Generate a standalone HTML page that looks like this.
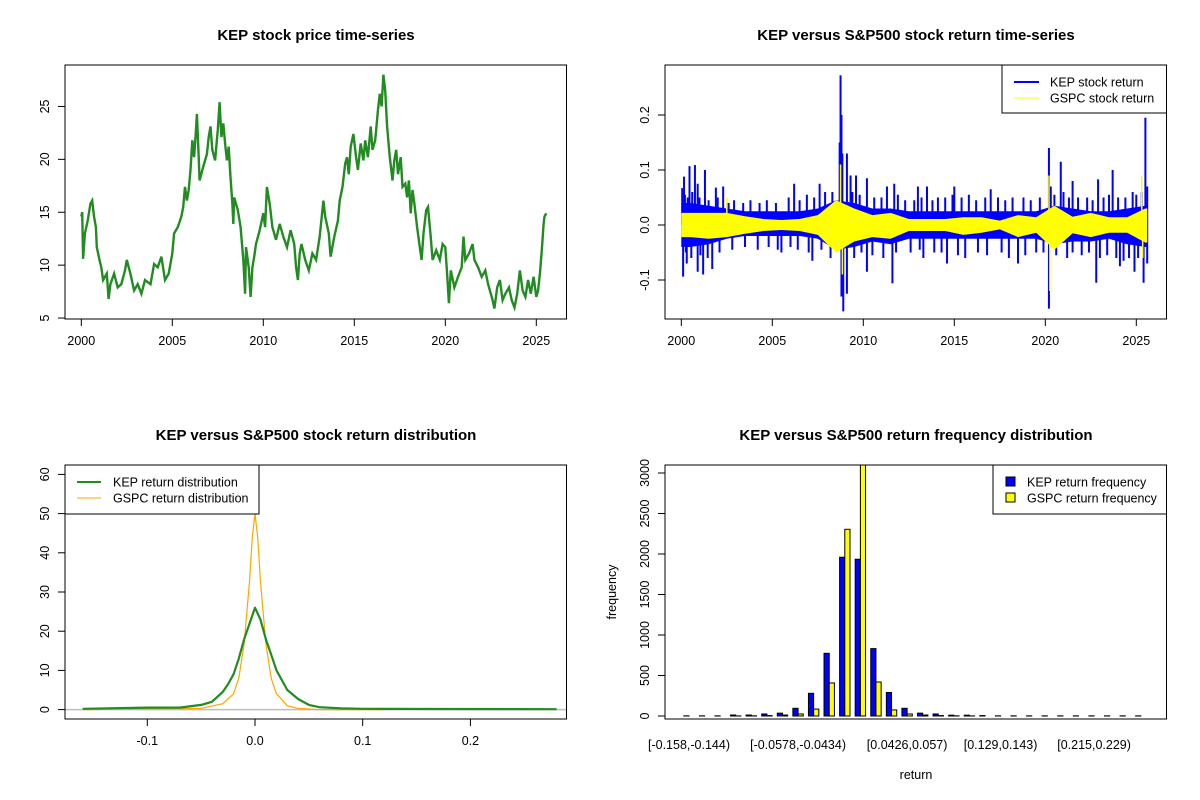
<!DOCTYPE html>
<html><head><meta charset="utf-8">
<style>
html,body{margin:0;padding:0;background:#fff;}
svg{display:block;font-family:"Liberation Sans",Arial,sans-serif;}
</style></head>
<body>
<svg id="chart" width="1200" height="800" viewBox="0 0 1200 800" xmlns="http://www.w3.org/2000/svg">
<rect x="0" y="0" width="1200" height="800" fill="#fff"/>
</svg>
<script>
// ---------- Panel 1: price ----------
const priceT = [2000.0,2000.05,2000.1,2000.2,2000.35,2000.5,2000.6,2000.7,2000.8,2000.85,2001.0,2001.1,2001.2,2001.4,2001.5,2001.6,2001.8,2002.0,2002.2,2002.4,2002.5,2002.7,2002.9,2003.1,2003.3,2003.5,2003.8,2004.0,2004.2,2004.4,2004.6,2004.8,2005.0,2005.1,2005.3,2005.5,2005.6,2005.7,2005.8,2005.9,2006.0,2006.1,2006.2,2006.3,2006.35,2006.45,2006.5,2006.7,2006.9,2007.0,2007.1,2007.2,2007.35,2007.5,2007.6,2007.7,2007.8,2007.9,2008.0,2008.1,2008.2,2008.3,2008.35,2008.4,2008.6,2008.75,2008.9,2009.0,2009.05,2009.2,2009.3,2009.4,2009.5,2009.6,2009.8,2010.0,2010.1,2010.2,2010.35,2010.5,2010.7,2010.9,2011.1,2011.3,2011.5,2011.7,2011.8,2011.9,2012.0,2012.1,2012.3,2012.5,2012.7,2012.9,2013.1,2013.3,2013.4,2013.6,2013.7,2013.9,2014.1,2014.2,2014.35,2014.5,2014.6,2014.7,2014.8,2014.95,2015.1,2015.2,2015.35,2015.5,2015.6,2015.75,2015.9,2016.0,2016.15,2016.3,2016.4,2016.5,2016.6,2016.7,2016.8,2016.95,2017.1,2017.2,2017.3,2017.4,2017.55,2017.65,2017.8,2017.9,2018.0,2018.1,2018.2,2018.3,2018.45,2018.6,2018.7,2018.8,2018.95,2019.05,2019.2,2019.3,2019.5,2019.7,2019.85,2020.0,2020.1,2020.2,2020.3,2020.5,2020.7,2020.9,2021.0,2021.1,2021.3,2021.5,2021.6,2021.8,2022.0,2022.2,2022.35,2022.5,2022.6,2022.7,2022.85,2023.0,2023.15,2023.3,2023.5,2023.65,2023.8,2023.95,2024.1,2024.25,2024.4,2024.55,2024.7,2024.85,2025.0,2025.1,2025.2,2025.3,2025.4,2025.45,2025.55];
const priceV = [14.6,15.0,10.6,13.0,14.2,15.8,16.1,14.6,13.6,11.7,10.5,9.8,8.6,9.2,6.8,8.2,9.2,7.9,8.2,9.5,10.5,9.2,7.6,8.2,7.3,8.6,8.2,10.1,9.8,10.8,8.6,9.2,11.1,13.0,13.6,14.6,15.5,17.4,16.1,17.1,19.0,21.8,20.2,22.8,24.3,20.2,18.0,19.3,20.5,22.1,23.1,20.9,19.9,22.8,25.4,22.1,23.4,21.5,19.9,21.2,18.3,15.8,13.9,16.4,15.2,13.6,10.5,7.3,11.7,9.8,7.0,9.8,10.8,12.0,13.3,14.9,13.6,17.4,15.8,13.6,12.4,13.9,12.7,11.7,13.3,12.0,9.8,8.6,11.1,12.0,10.5,9.5,11.1,10.5,12.7,16.1,14.6,13.0,10.8,12.7,14.2,16.1,17.4,19.6,20.2,18.6,21.2,22.4,20.2,19.0,21.5,19.9,21.8,20.2,23.1,20.9,21.8,24.7,26.2,25.0,28.0,26.5,23.1,20.2,18.0,19.9,20.9,18.6,20.2,17.4,17.7,16.4,18.0,14.9,17.1,15.8,13.6,11.7,10.5,13.0,15.2,15.5,12.7,10.5,11.4,10.5,12.0,11.7,9.2,6.4,9.5,7.9,8.9,9.8,12.7,10.5,11.1,12.0,10.5,9.8,8.9,9.5,8.2,7.3,6.7,5.9,7.9,8.6,6.7,7.3,7.9,6.7,6.0,7.3,9.5,7.6,7.0,8.6,7.3,8.9,7.0,7.6,9.2,11.4,13.9,14.6,14.9];
const yearTicks = [2000,2005,2010,2015,2020,2025];
const priceTicks = [5,10,15,20,25];

// ---------- Panel 2: returns ----------
const envYears = [2000,2001,2002,2003,2004,2005,2006,2007,2008,2009,2010,2011,2012,2013,2014,2015,2016,2017,2018,2019,2020,2021,2022,2023,2024,2025];
const kepEnvHi = [0.04,0.035,0.03,0.025,0.025,0.025,0.025,0.03,0.045,0.04,0.03,0.03,0.025,0.025,0.025,0.025,0.025,0.025,0.025,0.025,0.035,0.03,0.025,0.025,0.03,0.035];
const kepEnvLo = [-0.04,-0.035,-0.025,-0.02,-0.02,-0.02,-0.02,-0.025,-0.045,-0.04,-0.03,-0.035,-0.025,-0.025,-0.025,-0.025,-0.025,-0.025,-0.025,-0.025,-0.035,-0.03,-0.03,-0.025,-0.035,-0.04];
const gspcEnvHi = [0.022,0.022,0.022,0.016,0.011,0.009,0.011,0.018,0.045,0.03,0.018,0.022,0.011,0.011,0.011,0.014,0.014,0.008,0.018,0.014,0.035,0.015,0.022,0.014,0.014,0.03];
const gspcEnvLo = [-0.022,-0.025,-0.022,-0.016,-0.011,-0.009,-0.011,-0.018,-0.05,-0.03,-0.022,-0.025,-0.011,-0.011,-0.011,-0.018,-0.014,-0.008,-0.022,-0.014,-0.045,-0.015,-0.022,-0.014,-0.014,-0.032];
const kepSpikeT = [2000.05,2000.15,2000.45,2000.75,2000.9,2001.3,2001.9,2002.3,2006.2,2007.6,2008.7,2008.75,2008.8,2008.85,2009.1,2009.3,2009.6,2010.2,2011.3,2011.7,2013.0,2013.5,2015.0,2017.0,2020.2,2020.3,2020.85,2021.5,2022.9,2023.7,2024.8,2025.5,2025.6,
  2000.1,2000.3,2000.9,2001.2,2001.7,2005.5,2007.2,2008.8,2008.9,2009.1,2010.2,2011.6,2013.3,2014.6,2018.5,2020.2,2021.2,2022.8,2024.1,2024.9,2025.4,2025.6];
const kepSpikeV = [0.067,0.088,0.107,0.109,0.075,0.1,0.068,0.07,0.075,0.075,0.15,0.272,0.2,0.13,0.13,0.09,0.09,0.085,0.07,0.075,0.07,0.07,0.07,0.065,0.14,0.07,0.115,0.08,0.083,0.1,0.06,0.195,0.07,
  -0.094,-0.07,-0.085,-0.09,-0.08,-0.05,-0.065,-0.13,-0.157,-0.125,-0.085,-0.106,-0.06,-0.07,-0.07,-0.152,-0.06,-0.105,-0.075,-0.085,-0.105,-0.07];
const kepMidT = [2000.2,2000.35,2000.6,2001.0,2001.5,2002.0,2002.6,2002.9,2003.4,2003.8,2004.3,2004.7,2005.2,2005.9,2006.5,2006.9,2007.3,2007.9,2008.3,2009.4,2009.8,2010.6,2011.0,2011.9,2012.3,2012.8,2013.2,2013.8,2014.1,2014.5,2014.9,2015.4,2015.8,2016.2,2016.7,2017.4,2017.8,2018.2,2018.8,2019.2,2019.7,2020.5,2021.0,2021.3,2021.8,2022.3,2022.6,2023.2,2023.5,2024.0,2024.4,2025.0,2025.3,
  2000.25,2000.55,2001.05,2001.45,2002.1,2002.8,2003.5,2004.2,2004.8,2005.3,2006.0,2006.4,2007.0,2007.7,2008.2,2009.5,2009.9,2010.5,2011.1,2011.8,2012.6,2013.1,2013.9,2014.3,2015.2,2015.6,2016.3,2016.8,2017.6,2018.0,2018.9,2019.5,2019.9,2020.6,2021.5,2022.0,2022.4,2023.0,2023.4,2023.9,2024.3,2024.6,2025.1];
const kepMidV = [0.055,0.05,0.06,0.05,0.045,0.05,0.04,0.045,0.04,0.045,0.04,0.045,0.04,0.05,0.045,0.055,0.05,0.06,0.06,0.06,0.055,0.05,0.05,0.055,0.045,0.045,0.05,0.045,0.05,0.05,0.055,0.05,0.055,0.045,0.05,0.05,0.045,0.05,0.05,0.045,0.05,0.055,0.06,0.05,0.05,0.05,0.045,0.05,0.055,0.05,0.05,0.055,0.06,
  -0.05,-0.06,-0.055,-0.06,-0.05,-0.045,-0.04,-0.045,-0.04,-0.045,-0.04,-0.045,-0.05,-0.045,-0.06,-0.06,-0.05,-0.055,-0.06,-0.05,-0.05,-0.045,-0.05,-0.05,-0.055,-0.06,-0.05,-0.055,-0.05,-0.06,-0.055,-0.05,-0.05,-0.055,-0.05,-0.055,-0.05,-0.06,-0.055,-0.06,-0.065,-0.06,-0.06];
const gspcSpikeT = [2002.5,2008.75,2008.85,2020.2,2020.25,2025.3,2025.35];
const gspcSpikeV = [0.05,0.11,-0.09,0.09,-0.12,0.09,-0.06];
const retTicks = [-0.1,0.0,0.1,0.2];

// ---------- Panel 3: density ----------
const kepDensX = [-0.16,-0.1,-0.07,-0.05,-0.04,-0.03,-0.025,-0.02,-0.015,-0.01,-0.005,0,0.005,0.01,0.015,0.02,0.03,0.04,0.05,0.06,0.08,0.1,0.28];
const kepDensY = [0.2,0.5,0.5,1.2,2,4.5,6.5,9,13,18,22,26,23,18,14,10,5,2.7,1.2,0.6,0.3,0.2,0.1];
const gspcDensX = [-0.16,-0.05,-0.03,-0.02,-0.015,-0.01,-0.005,-0.0025,0,0.0025,0.005,0.01,0.015,0.02,0.03,0.04,0.06,0.12];
const gspcDensY = [0,0.3,1.5,4,8,17,33,44,50,44,33,17,8,4,1,0.3,0,0];
const densXTicks = [-0.1,0.0,0.1,0.2];
const densYTicks = [0,10,20,30,40,50,60];

// ---------- Panel 4: histogram ----------
const binLabels = ["[-0.158,-0.144)","[-0.0578,-0.0434)","[0.0426,0.057)","[0.129,0.143)","[0.215,0.229)"];
const binLabelIdx = [0,7,14,20,26];
const kepFreq = [2,2,2,12,12,25,35,95,280,774,1960,1935,832,290,95,35,25,10,10,5,2,2,2,2,2,2,2,2,2,2];
const gspcFreq = [0,0,0,1,2,5,12,25,85,408,2305,3150,420,75,25,12,5,2,1,0,0,0,0,0,0,0,0,0,0,0];
const freqTicks = [0,500,1000,1500,2000,2500,3000];

const NS = "http://www.w3.org/2000/svg";
const svg = document.getElementById('chart');
function mk(tag, attrs, parent){ const e=document.createElementNS(NS,tag); for(const k in attrs) e.setAttribute(k,attrs[k]); (parent||svg).appendChild(e); return e; }
function txt(x,y,s,size,anchor,weight,rot){ const t=mk('text',{x:x,y:y,'font-size':size,'text-anchor':anchor||'middle','font-weight':weight||'normal',fill:'#000'}); if(rot) t.setAttribute('transform','rotate(-90 '+x+' '+y+')'); t.textContent=s; return t; }
function box(x0,y0,x1,y1){ return mk('rect',{x:x0,y:y0,width:x1-x0,height:y1-y0,fill:'none',stroke:'#000','stroke-width':1}); }
function clip(id,x0,y0,x1,y1){ const c=mk('clipPath',{id:id}); mk('rect',{x:x0,y:y0,width:x1-x0,height:y1-y0},c); return 'url(#'+id+')'; }

// ===== Panel 1 =====
const L=65, R=566.5, T1=65, B1=319, T2=465, B2=719;
const yrX = y => 81.3 + (y-2000)*18.2;
const pY = v => 319 - (v-4.91)*10.58;
let e;
e=txt(316,40,'KEP stock price time-series',15,'middle','bold');


const g1=mk('g',{'clip-path':clip('c1',L,T1,R,B1)});
e=mk('polyline',{points:priceT.map((t,i)=>yrX(t).toFixed(1)+','+pY(priceV[i]).toFixed(1)).join(' '),fill:'none',stroke:'#228B22','stroke-width':2.4,'stroke-linejoin':'miter'},g1);


e=box(L,T1,R,B1);


yearTicks.forEach(y=>{
  mk('line',{x1:yrX(y),y1:B1,x2:yrX(y),y2:B1+7,stroke:'#000'});
  e=txt(yrX(y),B1+26,String(y),12.5);
  
  
});
mk('line',{x1:yrX(2000),y1:B1,x2:yrX(2025),y2:B1,stroke:'#000'});
priceTicks.forEach(v=>{
  mk('line',{x1:L,y1:pY(v),x2:L-7,y2:pY(v),stroke:'#000'});
  e=txt(L-16,pY(v),String(v),12.5,'middle','normal',true);
  
  
});

// ===== Panel 2 =====
const rX = y => 681.3 + (y-2000)*18.2;
const rY = v => 225 - v*550;
const L2=665, R2=1166.5;
e=txt(916,40,'KEP versus S&P500 stock return time-series',15,'middle','bold');


const g2=mk('g',{'clip-path':clip('c2',L2,T1,R2,B1)});
function envPath(hi,lo){
  let up=[],dn=[];
  envYears.forEach((y,i)=>{ const xm=rX(Math.min(y+0.5,2025.6)); up.push(xm+','+rY(hi[i])); dn.unshift(xm+','+rY(lo[i])); });
  up.unshift(rX(2000)+','+rY(hi[0])); up.push(rX(2025.6)+','+rY(hi[hi.length-1]));
  dn.push(rX(2000)+','+rY(lo[0])); dn.unshift(rX(2025.6)+','+rY(lo[lo.length-1]));
  return up.concat(dn).join(' ');
}
e=mk('polygon',{points:envPath(kepEnvHi,kepEnvLo),fill:'#0000FF'},g2);


kepMidT.forEach((t,i)=>{
  e=mk('line',{x1:rX(t),y1:rY(0),x2:rX(t),y2:rY(kepMidV[i]),stroke:'#0000FF','stroke-width':2},g2);
  
  
});
kepSpikeT.forEach((t,i)=>{
  e=mk('line',{x1:rX(t),y1:rY(0),x2:rX(t),y2:rY(kepSpikeV[i]),stroke:'#0000FF','stroke-width':2},g2);
  
  
});
e=mk('polygon',{points:envPath(gspcEnvHi,gspcEnvLo),fill:'#FFFF00'},g2);


gspcSpikeT.forEach((t,i)=>{
  e=mk('line',{x1:rX(t),y1:rY(0),x2:rX(t),y2:rY(gspcSpikeV[i]),stroke:'#FFFF00','stroke-width':1.5},g2);
  
  
});
e=box(L2,T1,R2,B1);


yearTicks.forEach(y=>{
  mk('line',{x1:rX(y),y1:B1,x2:rX(y),y2:B1+7,stroke:'#000'});
  e=txt(rX(y),B1+26,String(y),12.5);
  
  
});
mk('line',{x1:rX(2000),y1:B1,x2:rX(2025),y2:B1,stroke:'#000'});
retTicks.forEach(v=>{
  mk('line',{x1:L2,y1:rY(v),x2:L2-7,y2:rY(v),stroke:'#000'});
  e=txt(L2-16,rY(v),v.toFixed(1),12.5,'middle','normal',true);
  
  
});
const lg2=mk('g',{});


mk('rect',{x:1002,y:65,width:164.5,height:48,fill:'#fff',stroke:'#000'},lg2);
mk('line',{x1:1014,y1:82,x2:1039,y2:82,stroke:'#0000FF','stroke-width':2},lg2);
mk('line',{x1:1014,y1:98,x2:1039,y2:98,stroke:'#FFFF00','stroke-width':1},lg2);
lg2.appendChild(txt(1050,86.5,'KEP stock return',12.5,'start'));
lg2.appendChild(txt(1050,102.5,'GSPC stock return',12.5,'start'));

// ===== Panel 3 =====
const dX = v => 255 + v*1077;
const dY = v => 709.6 - v*3.92;
e=txt(316,440,'KEP versus S&P500 stock return distribution',15,'middle','bold');


const g3=mk('g',{'clip-path':clip('c3',L,T2,R,B2)});
e=mk('line',{x1:L,y1:dY(0),x2:R,y2:dY(0),stroke:'#bebebe','stroke-width':1.5},g3);


e=mk('polyline',{points:gspcDensX.map((x,i)=>dX(x).toFixed(1)+','+dY(gspcDensY[i]).toFixed(1)).join(' '),fill:'none',stroke:'#FFA500','stroke-width':1.2},g3);


e=mk('polyline',{points:kepDensX.map((x,i)=>dX(x).toFixed(1)+','+dY(kepDensY[i]).toFixed(1)).join(' '),fill:'none',stroke:'#228B22','stroke-width':2.2,'stroke-linejoin':'round'},g3);


e=box(L,T2,R,B2);


densXTicks.forEach(v=>{
  mk('line',{x1:dX(v),y1:B2,x2:dX(v),y2:B2+7,stroke:'#000'});
  e=txt(dX(v),B2+26,v.toFixed(1),12.5);
  
  
});
mk('line',{x1:dX(-0.1),y1:B2,x2:dX(0.2),y2:B2,stroke:'#000'});
densYTicks.forEach(v=>{
  mk('line',{x1:L,y1:dY(v),x2:L-7,y2:dY(v),stroke:'#000'});
  e=txt(L-16,dY(v),String(v),12.5,'middle','normal',true);
  
  
});
const lg3=mk('g',{});


mk('rect',{x:65,y:465,width:194,height:49,fill:'#fff',stroke:'#000'},lg3);
mk('line',{x1:77,y1:482,x2:101,y2:482,stroke:'#228B22','stroke-width':2},lg3);
mk('line',{x1:77,y1:498,x2:101,y2:498,stroke:'#FFA500','stroke-width':1},lg3);
lg3.appendChild(txt(113,486.5,'KEP return distribution',12.5,'start'));
lg3.appendChild(txt(113,502.5,'GSPC return distribution',12.5,'start'));

// ===== Panel 4 =====
const bc = k => 689 + k*15.58;
const bw = 15.58/3;
const hY = v => 716 - v*0.081;
e=txt(916,440,'KEP versus S&P500 return frequency distribution',15,'middle','bold');


const g4=mk('g',{'clip-path':clip('c4',L2,T2,R2,B2)});
kepFreq.forEach((v,k)=>{
  e=mk('rect',{x:bc(k)-bw,y:hY(v),width:bw,height:hY(0)-hY(v),fill:'#0000FF',stroke:'#000','stroke-width':1},g4);
  
  
});
gspcFreq.forEach((v,k)=>{
  e=mk('rect',{x:bc(k),y:hY(v),width:bw,height:hY(0)-hY(v),fill:'#FFFF00',stroke:'#000','stroke-width':1},g4);
  
  
});
e=box(L2,T2,R2,B2);


binLabels.forEach((s,i)=>{
  e=txt(bc(binLabelIdx[i]),B2+30,s,12.5);
  
  
});
freqTicks.forEach(v=>{
  mk('line',{x1:L2,y1:hY(v),x2:L2-7,y2:hY(v),stroke:'#000'});
  e=txt(L2-16,hY(v),String(v),12.5,'middle','normal',true);
  
  
});
mk('line',{x1:L2,y1:hY(0),x2:L2,y2:hY(3000),stroke:'#000'});
e=txt(916,779,'return',12.5);


e=txt(616,592,'frequency',12.5,'middle','normal',true);


const lg4=mk('g',{});


mk('rect',{x:993,y:465,width:173.5,height:49,fill:'#fff',stroke:'#000'},lg4);
mk('rect',{x:1006,y:477,width:9,height:9,fill:'#0000FF',stroke:'#000'},lg4);
mk('rect',{x:1006,y:493,width:9,height:9,fill:'#FFFF00',stroke:'#000'},lg4);
lg4.appendChild(txt(1027,486.5,'KEP return frequency',12.5,'start'));
lg4.appendChild(txt(1027,502.5,'GSPC return frequency',12.5,'start'));
</script>
</body></html>
